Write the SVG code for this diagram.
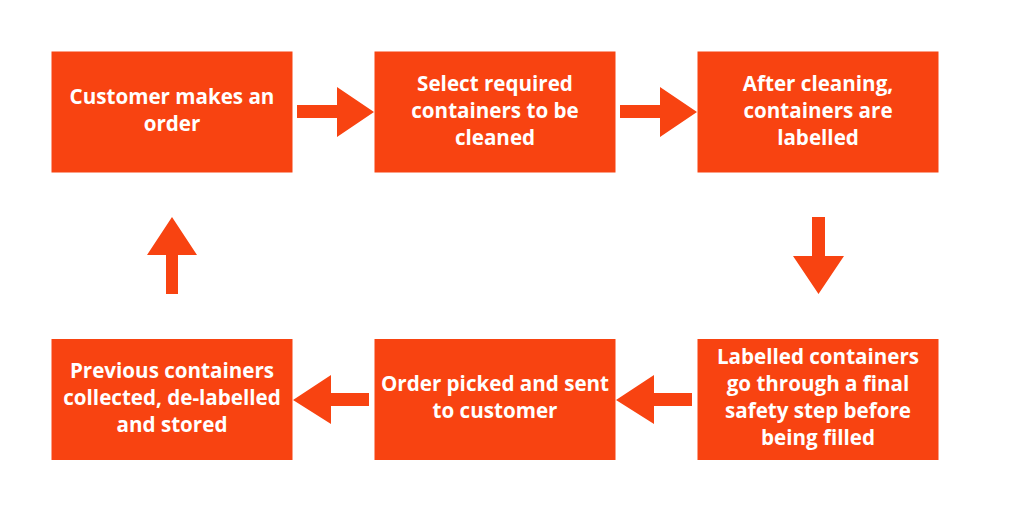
<svg xmlns="http://www.w3.org/2000/svg" width="1024" height="512" viewBox="0 0 1024 512">
<style>
.box{fill:#F84311}
.t{font-family:"Open Sans","Liberation Sans",sans-serif;font-weight:700;font-size:20.6px;fill:#FFFFFF;text-anchor:middle}
.arr{fill:#F84311}
</style>
<rect width="1024" height="512" fill="#FFFFFF"/>
<g id="n1"><rect class="box" x="51.5" y="51.5" width="241" height="121"/>
<text class="t" x="172" y="104">Customer makes an</text><text class="t" x="172" y="131">order</text></g>
<g id="n2"><rect class="box" x="374.5" y="51.5" width="241" height="121"/>
<text class="t" x="495" y="91">Select required</text><text class="t" x="495" y="118">containers to be</text><text class="t" x="495" y="145">cleaned</text></g>
<g id="n3"><rect class="box" x="697.5" y="51.5" width="241" height="121"/>
<text class="t" x="818" y="91">After cleaning,</text><text class="t" x="818" y="118">containers are</text><text class="t" x="818" y="145">labelled</text></g>
<g id="n4"><rect class="box" x="697.5" y="339" width="241" height="121"/>
<text class="t" x="818" y="364">Labelled containers</text><text class="t" x="818" y="391">go through a final</text><text class="t" x="818" y="418">safety step before</text><text class="t" x="818" y="445">being filled</text></g>
<g id="n5"><rect class="box" x="374.5" y="339" width="241" height="121"/>
<text class="t" x="495" y="391">Order picked and sent</text><text class="t" x="495" y="418">to customer</text></g>
<g id="n6"><rect class="box" x="51.5" y="339" width="241" height="121"/>
<text class="t" x="172" y="378">Previous containers</text><text class="t" x="172" y="405">collected, de-labelled</text><text class="t" x="172" y="432">and stored</text></g>
<g id="connectors">
<polygon class="arr" points="297,105 337,105 337,87 374,112 337,137 337,118 297,118"/>
<polygon class="arr" points="620,105 660,105 660,87 697,112 660,137 660,118 620,118"/>
<polygon class="arr" points="812,217 825,217 825,256 844,256 818.5,294 793,256 812,256"/>
<polygon class="arr" points="692,393 654,393 654,375 616,400 654,424 654,406 692,406"/>
<polygon class="arr" points="369,393 331,393 331,375 293,400 331,424 331,406 369,406"/>
<polygon class="arr" points="166,294 178,294 178,255 197,255 172,217 147,255 166,255"/>
</g>
</svg>
